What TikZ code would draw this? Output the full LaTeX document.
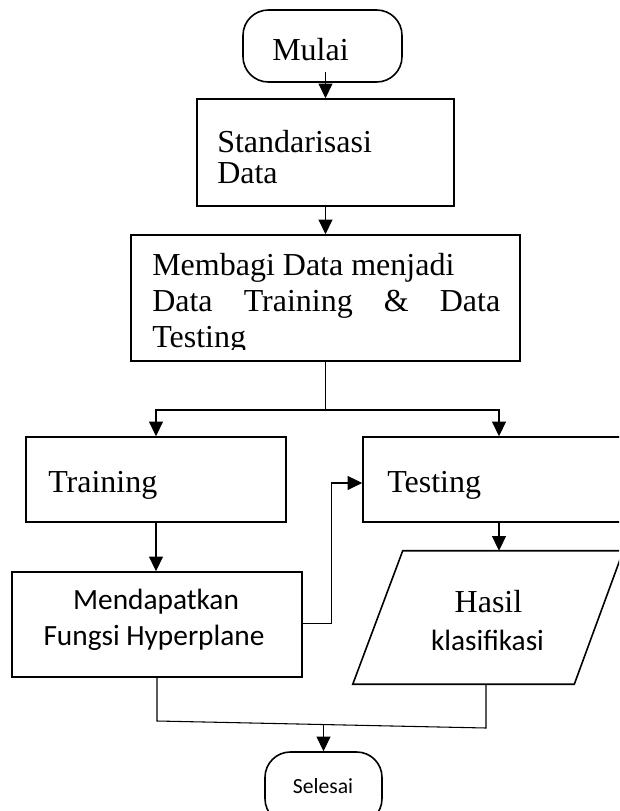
\documentclass[tikz,border=0pt]{standalone}
\usepackage{fontspec}
\setmainfont{Liberation Serif}
\newfontfamily\calfont{Carlito}
\usetikzlibrary{arrows.meta,calc}
\newdimen\pxu \pxu=0.75pt
\begin{document}
\begin{tikzpicture}[x=0.75pt,y=-0.75pt,
  box/.style={draw, line width=1.2pt, inner sep=0pt},
  term/.style={box, rounded corners=19pt},
  conn/.style={line width=0.8pt},
  arr/.style={conn, -{Triangle[length=11pt,width=10.5pt]}},
  tnr/.style={font=\fontsize{24pt}{30pt}\selectfont, inner sep=0pt, anchor=base west},
  cal/.style={font=\calfont\fontsize{22pt}{28pt}\selectfont, inner sep=0pt, anchor=base},
]
\useasboundingbox (0,0) rectangle (619,811);
\clip (0,0) rectangle (619,811);
\fill[white] (0,0) rectangle (619,811);

% nodes
\node[term, minimum width=159\pxu, minimum height=72\pxu] (mulai) at (322.5,46) {};
\node[tnr] (tmulai) at (272,60) {Mulai};

\node[box, minimum width=257\pxu, minimum height=107\pxu] (std) at (325.5,152.5) {};
\node[tnr] (tstd1) at (217,152) {Standarisasi};
\node[tnr] (tstd2) at (217,183) {Data};

\node[box, minimum width=389\pxu, minimum height=126\pxu] (bagi) at (325.5,298) {};
\node[tnr] (tb1) at (152,275) {Membagi Data menjadi};
\node[tnr] (tb2) at (152,311) {\makebox[348\pxu][s]{Data Training \& Data}};
\begin{scope}
\clip (131,235) rectangle (520,349);
\node[tnr] (tb3) at (152,347) {Testing};
\end{scope}

\node[box, minimum width=260\pxu, minimum height=85\pxu] (train) at (156,479.5) {};
\node[tnr] (ttrain) at (48,492) {Training};

\node[box, minimum width=272\pxu, minimum height=85\pxu] (test) at (499,479.5) {};
\node[tnr] (ttest) at (387,492) {Testing};

\node[box, minimum width=290\pxu, minimum height=105\pxu] (mend) at (157,624.5) {};
\node[cal] (tm1) at (156,609) {Mendapatkan};
\node[cal] (tm2) at (154,645) {Fungsi Hyperplane};

\node[minimum width=270\pxu, minimum height=133\pxu, inner sep=0pt] (para) at (488,617.5) {};
\draw[box] ([xshift=50\pxu]para.north west) -- (para.north east) -- ([xshift=-49\pxu]para.south east) -- (para.south west) -- cycle;
\node[tnr, anchor=base] (th1) at (488.5,612) {Hasil};
\node[cal] (th2) at (487.5,650) {klasifikasi};

\node[term, minimum width=117\pxu, minimum height=72\pxu] (sel) at (323.5,788) {};
\node[cal, font=\calfont\fontsize{16.2pt}{20pt}\selectfont] (tsel) at (323,793) {Selesai};

% connectors
\draw[arr] ([yshift=8.25pt]mulai.south -| std.north) -- (std.north);
\draw[arr] (std.south) -- (bagi.north);
\coordinate (split) at (325.5,410);
\draw[conn] (bagi.south) -- (split);
\draw[arr] (split) -| (train.north);
\draw[arr] (split) -| (test.north);
\draw[arr] (train.south) -- (train.south |- mend.north);
\draw[arr] ([yshift=1.1pt]mend.east) -- ++(29,0) |- ([yshift=-2.6pt]test.west);
\draw[arr] (test.south) -- (test.south |- para.north);
\coordinate (jl) at (157,721);
\coordinate (jr) at (486,728);
\coordinate (jm) at (323.5,724.5);
\draw[conn] (mend.south) -- (jl) -- (jr) -- ([xshift=-2\pxu]para.south);
\draw[arr] (jm) -- (sel.north);
\end{tikzpicture}
\end{document}
